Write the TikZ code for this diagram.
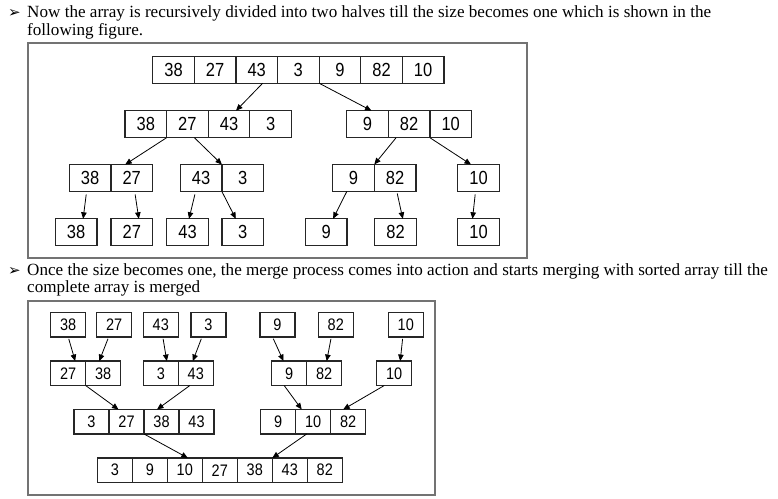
\documentclass[tikz,border=0pt]{standalone}
\usepackage{fontspec}
\setmainfont{Liberation Serif}
\newfontfamily\arial{Liberation Sans}
\newfontfamily\dingfont{DejaVu Sans}
\usepackage{tikz}
\usetikzlibrary{arrows.meta,calc}

\newcommand{\digits}[1]{\scalebox{1}[1.15]{#1}}
% one row of joined cells: name, left x, centre y, values
\newcommand{\cellrow}[4]{%
  \foreach \v [count=\i] in {#4}
    \node[cell] (#1\i) at ({#2+\cellw*(\i-0.5)},#3) {\digits{\v}};}

\tikzset{
  frame/.style={draw=black!55, line width=2pt},
  arr/.style={-{Triangle[length=6.5pt,width=5.5pt]}, line width=0.8pt},
  para/.style={anchor=base west, font=\fontsize{17.1}{17}\selectfont},
  bullet/.style={anchor=base west, inner sep=0pt, font=\dingfont\fontsize{15}{15}\selectfont},
}

\begin{document}
\begin{tikzpicture}[x=1pt, y=-1pt]
\useasboundingbox (0,0) rectangle (778,498);
% Text above the first figure
\node[bullet] (b1) at (8,17.3) {➢};
\node[para] (p1) at (23.7,17.3) {Now the array is recursively divided into two halves till the size becomes one which is shown in the};
\node[para] (p2) at (23.7,35) {following figure.};

% Divide phase
\draw[frame] (27.7,43) rectangle (526.7,258);
\begin{scope}[cell/.style={draw=black!85, line width=1.2pt, minimum width=41.6pt, minimum height=27pt,
    inner sep=0pt, outer sep=0pt, font=\arial\fontsize{16.5}{16}\selectfont}]
\def\cellw{41.6}
\cellrow{top}{152.7}{69.7}{38,27,43,3,9,82,10}
\cellrow{ha}{125}{124.2}{38,27,43,3}
\cellrow{hb}{346.7}{124.2}{9,82,10}
\cellrow{qa}{69.3}{178}{38,27}
\cellrow{qb}{180.3}{178}{43,3}
\cellrow{qc}{332.7}{178}{9,82}
\cellrow{qd}{457.7}{178}{10}
\foreach \x/\v [count=\i] in {55.3/38,111/27,166.7/43,222/3,305.3/9,374.7/82,457.7/10}
  \node[cell] (s\i) at (\x+20.8,232.3) {\digits{\v}};
\end{scope}
\draw[arr] ([xshift=6pt]top3.south) -- ([xshift=7pt]ha3.north);
\draw[arr] (top4.south east) -- ([xshift=4pt]hb1.north);
\draw[arr] (ha1.south east) -- ([xshift=-6.5pt]qa2.north);
\draw[arr] ([xshift=7pt]ha2.south) -- (qb1.north east);
\draw[arr] ([xshift=-13pt]hb2.south) -- (qc1.north east);
\draw[arr] (hb2.south east) -- ([xshift=-7.5pt]qd1.north);
\draw[arr, shorten <=3pt] ([xshift=-3.5pt]qa1.south) -- ([xshift=7pt]s1.north);
\draw[arr, shorten <=3pt] ([xshift=3pt]qa2.south) -- ([xshift=7pt]s2.north);
\draw[arr, shorten <=3pt] ([xshift=-5.5pt]qb1.south) -- ([xshift=1.5pt]s3.north);
\draw[arr] (qb1.south east) -- ([xshift=-7pt]s4.north);
\draw[arr] ([xshift=-6.7pt]qc1.south) -- ([xshift=7pt]s5.north);
\draw[arr, shorten <=2pt] ([xshift=1.7pt]qc2.south) -- ([xshift=7.3pt]s6.north);
\draw[arr, shorten <=3pt] ([xshift=-3pt]qd1.south) -- ([xshift=-6pt]s7.north);

% Text above the second figure
\node[bullet] (b2) at (8,275) {➢};
\node[para] (p3) at (23.7,275) {Once the size becomes one, the merge process comes into action and starts merging with sorted array till the};
\node[para] (p4) at (23.7,292.7) {complete array is merged};

% Merge phase
\draw[frame] (27.7,301) rectangle (435,495);
\begin{scope}[cell/.style={draw=black!85, line width=1.2pt, minimum width=35pt, minimum height=24.5pt,
    inner sep=0pt, outer sep=0pt, font=\arial\fontsize{14.5}{14}\selectfont}]
\def\cellw{35}
\foreach \x/\v [count=\i] in {50.7/38,96.7/27,143.3/43,191/3,260/9,318.3/82,388.3/10}
  \node[cell] (m\i) at (\x+17.5,324.7) {\digits{\v}};
\cellrow{pa}{50.7}{373.3}{27,38}
\cellrow{pb}{143.3}{373.3}{3,43}
\cellrow{pc}{271.7}{373.3}{9,82}
\cellrow{pd}{376.7}{373.3}{10}
\cellrow{ra}{74}{421.7}{3,27,38,43}
\cellrow{rb}{260.7}{421.7}{9,10,82}
\cellrow{fin}{97.3}{470.2}{3,9,10,27,38,43,82}
\end{scope}
\draw[arr, shorten <=2pt] (m1.south) -- ([xshift=7pt]pa1.north);
\draw[arr, shorten <=2pt] ([xshift=-5.5pt]m2.south) -- ([xshift=-4pt]pa2.north);
\draw[arr, shorten <=2pt] ([xshift=2pt]m3.south) -- ([xshift=6pt]pb1.north);
\draw[arr, shorten <=2pt] ([xshift=-6.5pt]m4.south) -- ([xshift=-3pt]pb2.north);
\draw[arr, shorten <=2pt] ([xshift=-5pt]m5.south) -- ([xshift=-5.7pt]pc1.north);
\draw[arr, shorten <=2pt] ([xshift=-4.5pt]m6.south) -- ([xshift=2.5pt]pc2.north);
\draw[arr, shorten <=2pt] ([xshift=-3pt]m7.south) -- ([xshift=6pt]pd1.north);
\draw[arr] (pa1.south east) -- ([xshift=-8pt]ra2.north);
\draw[arr] ([xshift=-6pt]pb2.south) -- ([xshift=-4.5pt]ra3.north);
\draw[arr] ([xshift=-5pt]pc1.south) -- ([xshift=-11.5pt]rb2.north);
\draw[arr] ([xshift=-10pt]pd1.south) -- ([xshift=-5pt]rb3.north);
\draw[arr] (ra2.south east) -- ([xshift=3pt]fin3.north);
\draw[arr] ([xshift=-6.5pt]rb2.south) -- (fin6.north west);
\end{tikzpicture}
\end{document}
